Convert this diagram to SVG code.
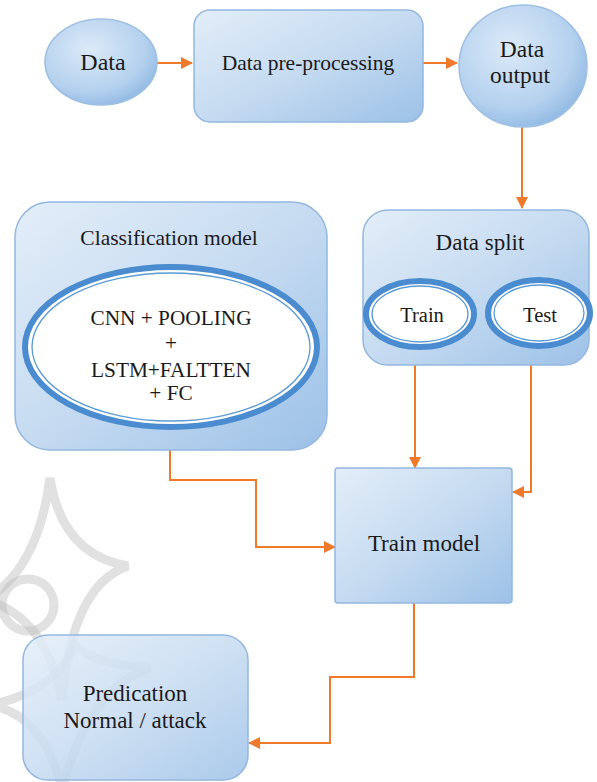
<svg xmlns="http://www.w3.org/2000/svg" width="597" height="782" viewBox="0 0 597 782">
<defs>
<style>
.lbl{font-family:'Liberation Serif','DejaVu Serif',serif;fill:#1a1a1a;text-anchor:middle}
.box{fill:url(#boxg);stroke:#93b8df;stroke-width:1.5}
.circ{fill:url(#circg);stroke:#9cbfe4;stroke-width:1.5}
.ring{fill:#ffffff;stroke:#4a8ccf;stroke-width:6}
.ring2{fill:none;stroke:#5b9bd5;stroke-width:1.3}
.con{fill:none;stroke:#f07a2c;stroke-width:2}
.wm{fill:none;stroke:#bdbdbd;stroke-width:9;opacity:0.45}
</style>
<linearGradient id="boxg" x1="0" y1="0" x2="1" y2="1">
<stop offset="0" stop-color="#e3eef9"/>
<stop offset="0.5" stop-color="#c6dbf1"/>
<stop offset="1" stop-color="#9cc1e7"/>
</linearGradient>
<radialGradient id="circg" cx="0.4" cy="0.35" r="0.7">
<stop offset="0" stop-color="#dceaf8"/>
<stop offset="0.7" stop-color="#b5d1ee"/>
<stop offset="1" stop-color="#8fb8e3"/>
</radialGradient>
<marker id="ah" markerUnits="userSpaceOnUse" markerWidth="12" markerHeight="12" viewBox="0 0 12 12" refX="11" refY="6" orient="auto">
<path d="M0,0 L12,6 L0,12 Z" fill="#f07a2c"/>
</marker>
</defs>
<rect width="597" height="782" fill="#ffffff"/>
<g id="watermark">
<path class="wm" d="M50,478 Q62,555 128,566 Q72,585 62,700 Q45,615 -15,600 Q38,570 50,478 Z"/>
<circle class="wm" cx="28" cy="605" r="26"/>
<path class="wm" d="M75,645 Q92,664 150,668 Q88,688 62,790 Q45,715 -10,705 Q55,692 75,645 Z"/>
</g>
<g id="connectors">
<path class="con" d="M157,63 H192" marker-end="url(#ah)"/>
<path class="con" d="M423,63 H457" marker-end="url(#ah)"/>
<path class="con" d="M522,127 V208" marker-end="url(#ah)"/>
<path class="con" d="M415,365 V468" marker-end="url(#ah)"/>
<path class="con" d="M531,365 V492 H513" marker-end="url(#ah)"/>
<path class="con" d="M170,450 V480 H256 V547 H335" marker-end="url(#ah)"/>
<path class="con" d="M414,603 V677 H330 V743 H249" marker-end="url(#ah)"/>
</g>
<g id="data">
<ellipse class="circ" cx="101" cy="62" rx="56" ry="43"/>
<text class="lbl" x="103" y="70" font-size="24">Data</text>
</g>
<g id="preprocessing">
<rect class="box" x="194" y="10" width="229" height="112" rx="16"/>
<text class="lbl" x="308" y="70" font-size="21.5">Data pre-processing</text>
</g>
<g id="data-output">
<ellipse class="circ" cx="523" cy="66" rx="64" ry="61"/>
<text class="lbl" x="522" y="57" font-size="23.5">Data</text>
<text class="lbl" x="520" y="83" font-size="23.5">output</text>
</g>
<g id="classification">
<rect class="box" x="15" y="202" width="312" height="248" rx="35"/>
<text class="lbl" x="169" y="245" font-size="21.5">Classification model</text>
<ellipse class="ring" cx="171" cy="347" rx="146" ry="80"/>
<ellipse class="ring2" cx="171" cy="347" rx="139" ry="74"/>
<text class="lbl" x="171" y="325" font-size="21.3">CNN + POOLING</text>
<text class="lbl" x="171" y="350" font-size="21.3">+</text>
<text class="lbl" x="171" y="377" font-size="21.3">LSTM+FALTTEN</text>
<text class="lbl" x="171" y="400" font-size="21.3">+ FC</text>
</g>
<g id="data-split">
<rect class="box" x="363" y="210" width="226" height="155" rx="25"/>
<text class="lbl" x="480" y="250" font-size="23">Data split</text>
<g id="train">
<ellipse class="ring" cx="420" cy="314" rx="54" ry="33"/>
<ellipse class="ring2" cx="420" cy="314" rx="48" ry="28"/>
<text class="lbl" x="422" y="322" font-size="20.5">Train</text>
</g>
<g id="test">
<ellipse class="ring" cx="539" cy="313" rx="51" ry="33"/>
<ellipse class="ring2" cx="539" cy="313" rx="45" ry="28"/>
<text class="lbl" x="540" y="322" font-size="20.5">Test</text>
</g>
</g>
<g id="train-model">
<rect class="box" x="335" y="468" width="177" height="135" rx="3"/>
<text class="lbl" x="424" y="551" font-size="23">Train model</text>
</g>
<g id="predication">
<rect class="box" x="23" y="635" width="225" height="145" rx="25" fill-opacity="0.85"/>
<text class="lbl" x="135" y="701" font-size="23">Predication</text>
<text class="lbl" x="135" y="728" font-size="23">Normal / attack</text>
</g>
</svg>
